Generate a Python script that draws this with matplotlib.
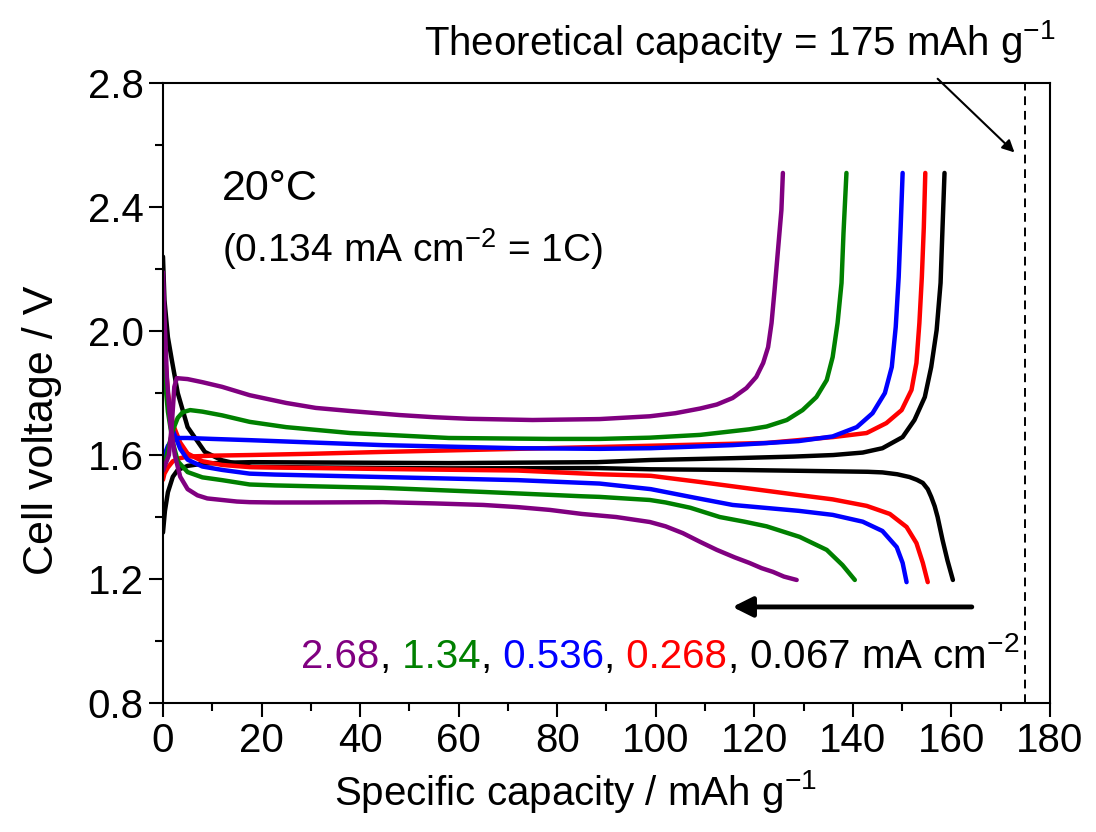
import matplotlib
matplotlib.use("Agg")
import matplotlib.pyplot as plt
from matplotlib.ticker import MultipleLocator
from matplotlib.offsetbox import TextArea, HPacker, AnchoredOffsetbox

plt.rcParams['font.family'] = ['Liberation Sans', 'DejaVu Sans']
plt.rcParams['mathtext.fontset'] = 'custom'
plt.rcParams['mathtext.rm'] = 'Liberation Sans'
plt.rcParams['mathtext.it'] = 'Liberation Sans:italic'
plt.rcParams['mathtext.default'] = 'regular'

# rates (mA cm-2) and colours
rates = ['2.68', '1.34', '0.536', '0.268', '0.067']
colors = ['#800080', '#008000', '#0000ff', '#ff0000', '#000000']

# 0.067 mA cm-2
black_chg_x = [0, 0.4, 1, 2, 3, 5, 8, 12, 18, 30, 58, 88, 99, 116, 128, 136, 142, 146, 150.1, 152.5, 154.6, 155.9, 157, 157.8, 158.2, 158.6]
black_chg_y = [1.35, 1.42, 1.48, 1.53, 1.552, 1.565, 1.572, 1.575, 1.577, 1.576, 1.574, 1.577, 1.584, 1.590, 1.595, 1.600, 1.608, 1.622, 1.658, 1.713, 1.787, 1.884, 2.003, 2.155, 2.335, 2.51]
black_dis_x = [0, 0.3, 1, 1.8, 3, 5, 8.5, 12, 15, 18, 30, 58, 88, 99, 116, 130, 143, 146, 149, 151.5, 153, 154.2, 155.2, 155.9, 156.6, 157.2, 158.2, 159.2, 160.3]
black_dis_y = [2.24, 2.10, 1.98, 1.906, 1.80, 1.69, 1.61, 1.583, 1.572, 1.562, 1.560, 1.557, 1.558, 1.554, 1.552, 1.549, 1.546, 1.544, 1.538, 1.529, 1.52, 1.51, 1.49, 1.465, 1.435, 1.40, 1.326, 1.26, 1.197]

# 0.268 mA cm-2
red_chg_x = [0, 0.3, 1, 2, 3.5, 5, 10, 17.6, 30, 44.6, 72, 88.6, 99, 122.5, 136, 142.8, 146.8, 149.9, 151.9, 152.9, 153.5, 154, 154.4, 154.7]
red_chg_y = [1.52, 1.54, 1.56, 1.58, 1.59, 1.595, 1.598, 1.600, 1.604, 1.610, 1.620, 1.626, 1.630, 1.639, 1.658, 1.671, 1.703, 1.745, 1.81, 1.897, 2.026, 2.174, 2.335, 2.51]
red_dis_x = [0, 0.3, 1, 2, 3.5, 5, 8, 12, 17.6, 44.6, 72, 88.6, 99, 109, 129, 135.9, 142.8, 147.5, 150.9, 152.9, 154.2, 155.2]
red_dis_y = [2.01, 1.95, 1.80, 1.70, 1.64, 1.605, 1.58, 1.568, 1.561, 1.555, 1.550, 1.538, 1.533, 1.513, 1.471, 1.457, 1.436, 1.41, 1.368, 1.316, 1.252, 1.19]

# 0.536 mA cm-2
blue_chg_x = [0, 0.3, 1, 2, 3, 5, 10, 17.6, 44.6, 72, 88.6, 99, 115.6, 129, 135.9, 140.8, 144, 146.5, 147.9, 148.7, 149.3, 149.7, 150.1]
blue_chg_y = [1.58, 1.60, 1.63, 1.65, 1.655, 1.655, 1.652, 1.648, 1.632, 1.622, 1.620, 1.622, 1.632, 1.645, 1.66, 1.69, 1.735, 1.80, 1.884, 2.013, 2.174, 2.335, 2.51]
blue_dis_x = [0, 0.3, 1, 2, 3.5, 5, 8, 12, 17.6, 22.7, 44.6, 72, 88.6, 99, 108, 115.6, 129, 135.9, 142, 146, 148.9, 150.1, 150.9]
blue_dis_y = [1.97, 1.90, 1.78, 1.68, 1.62, 1.585, 1.563, 1.552, 1.540, 1.537, 1.529, 1.519, 1.508, 1.49, 1.462, 1.439, 1.42, 1.407, 1.385, 1.355, 1.303, 1.252, 1.19]

# 1.34 mA cm-2
green_chg_x = [0, 0.5, 1.2, 2, 3, 4, 5.5, 8, 12, 17.6, 25, 38, 58, 78.5, 88.6, 98.8, 109, 119, 122.5, 126.6, 129.8, 132.6, 134.7, 135.9, 136.9, 137.7, 138.1, 138.7]
green_chg_y = [1.55, 1.58, 1.63, 1.68, 1.72, 1.738, 1.745, 1.74, 1.728, 1.707, 1.69, 1.671, 1.655, 1.652, 1.652, 1.656, 1.665, 1.683, 1.692, 1.713, 1.745, 1.787, 1.842, 1.916, 2.026, 2.155, 2.316, 2.51]
green_dis_x = [0, 0.3, 1, 2, 3, 5, 8, 12, 17.6, 22.7, 44.6, 65, 85, 88.6, 98.8, 102, 107, 113, 118, 122.5, 129.2, 134.7, 137.9, 140.4]
green_dis_y = [1.93, 1.86, 1.74, 1.64, 1.58, 1.545, 1.528, 1.519, 1.505, 1.502, 1.494, 1.481, 1.467, 1.465, 1.455, 1.447, 1.43, 1.40, 1.385, 1.37, 1.336, 1.294, 1.245, 1.197]

# 2.68 mA cm-2
purple_chg_x = [0, 0.5, 1.2, 1.8, 2.3, 2.8, 5, 8, 12, 17.6, 25, 31, 38, 48, 55, 62, 75, 88.6, 98.8, 104, 109, 112.4, 115.6, 118.4, 120.4, 121.8, 122.8, 123.5, 124.1, 124.8, 125.5, 125.8]
purple_chg_y = [1.55, 1.57, 1.60, 1.70, 1.82, 1.848, 1.845, 1.835, 1.82, 1.793, 1.768, 1.752, 1.742, 1.729, 1.722, 1.717, 1.713, 1.716, 1.725, 1.735, 1.75, 1.763, 1.784, 1.816, 1.852, 1.897, 1.948, 2.026, 2.13, 2.26, 2.39, 2.51]
purple_dis_x = [0, 0.3, 0.8, 1.5, 2.4, 3.5, 5, 7, 9, 12, 15, 17.6, 22.7, 30, 44.6, 55, 65, 72, 78.5, 85, 92, 98.8, 102, 105.5, 109, 112.4, 116, 119, 121.5, 123.8, 126, 128.6]
purple_dis_y = [2.19, 2.05, 1.85, 1.70, 1.60, 1.53, 1.49, 1.47, 1.46, 1.455, 1.45, 1.448, 1.447, 1.447, 1.448, 1.444, 1.439, 1.432, 1.423, 1.41, 1.40, 1.384, 1.37, 1.348, 1.32, 1.294, 1.27, 1.252, 1.235, 1.223, 1.208, 1.197]

curves = [
    (black_chg_x, black_chg_y, black_dis_x, black_dis_y, colors[4]),
    (red_chg_x, red_chg_y, red_dis_x, red_dis_y, colors[3]),
    (blue_chg_x, blue_chg_y, blue_dis_x, blue_dis_y, colors[2]),
    (green_chg_x, green_chg_y, green_dis_x, green_dis_y, colors[1]),
    (purple_chg_x, purple_chg_y, purple_dis_x, purple_dis_y, colors[0]),
]

theo_cap = 175

fig = plt.figure(figsize=(10.96, 8.32), dpi=100)
ax = fig.add_axes([0.1487, 0.155, 0.8093, 0.7452])

for cx, cy, dx, dy, c in curves:
    ax.plot(cx, cy, color=c, lw=3.2, solid_joinstyle='round', solid_capstyle='round')
    ax.plot(dx, dy, color=c, lw=3.2, solid_joinstyle='round', solid_capstyle='round')

ax.axvline(theo_cap, color='k', lw=1.4, ls=(0, (4.5, 3)))

ax.set_xlim(0, 180)
ax.set_ylim(0.8, 2.8)
ax.xaxis.set_major_locator(MultipleLocator(20))
ax.xaxis.set_minor_locator(MultipleLocator(10))
ax.yaxis.set_major_locator(MultipleLocator(0.4))
ax.yaxis.set_minor_locator(MultipleLocator(0.2))
ax.yaxis.set_major_formatter(plt.FormatStrFormatter('%.1f'))
ax.tick_params(which='both', direction='out', top=False, right=False, width=1.5, labelsize=29)
ax.tick_params(which='major', length=10, pad=4)
ax.tick_params(which='minor', length=6)
for sp in ax.spines.values():
    sp.set_linewidth(1.5)

ax.set_xlabel('Specific capacity / mAh g$^{-1}$', fontsize=29)
ax.set_ylabel('Cell voltage / V', fontsize=31)
ax.xaxis.set_label_coords(0.4645, -0.105)
ax.yaxis.set_label_coords(-0.114, 0.44)

ax.text(12, 2.423, '20°C', fontsize=31, va='baseline')
ax.text(12, 2.223, '(0.134 mA cm$^{-2}$ = 1C)', fontsize=28, va='baseline')

# direction arrow
ax.annotate('', xy=(115, 1.11), xytext=(164.7, 1.11),
            arrowprops=dict(arrowstyle='-|>', lw=3.5, color='k', mutation_scale=30))

# theoretical capacity note
ax.text(117, 2.89, 'Theoretical capacity = 175 mAh g$^{-1}$', fontsize=29,
        ha='center', va='baseline', clip_on=False)
ax.annotate('', xy=(173.2, 2.57), xytext=(156.8, 2.82),
            arrowprops=dict(arrowstyle='-|>', lw=1.5, color='k', mutation_scale=18),
            annotation_clip=False)

# coloured list of current densities
pieces = []
for i, r in enumerate(rates[:-1]):
    lead = '' if i == 0 else ' '
    pieces.append(TextArea(lead + r, textprops=dict(color=colors[i], fontsize=29)))
    if i < len(rates) - 2:
        pieces.append(TextArea(',', textprops=dict(color='k', fontsize=29)))
pieces.append(TextArea(', ' + rates[-1] + ' mA cm$^{-2}$', textprops=dict(color='k', fontsize=29)))
box = HPacker(children=pieces, align='baseline', pad=0, sep=0)
anch = AnchoredOffsetbox(loc='lower right', child=box, pad=0, borderpad=0, frameon=False,
                         bbox_to_anchor=(173.8, 0.887), bbox_transform=ax.transData)
ax.add_artist(anch)

fig.savefig('out.png', dpi=100)
